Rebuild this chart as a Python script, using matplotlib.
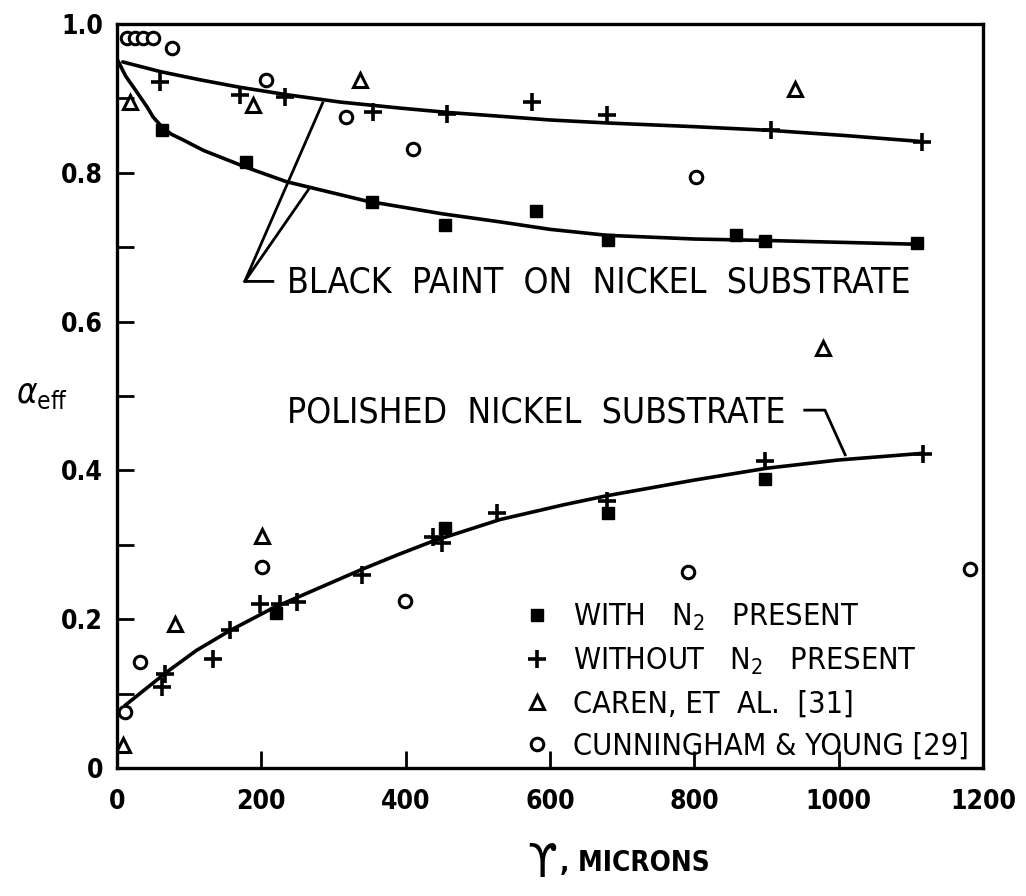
#plot of effective absorptance against coating thickness
#black paint and polished nickel substrates, with and without N2
import numpy as np
import matplotlib.pyplot as plt

# black paint on nickel substrate - measured points
paint_n2_x = [62, 179, 353, 455, 580, 680, 858, 898, 1108]
paint_n2_y = [0.858, 0.815, 0.761, 0.730, 0.748, 0.710, 0.717, 0.709, 0.705]
paint_no_n2_x = [60, 170, 233, 355, 457, 575, 679, 906, 1115]
paint_no_n2_y = [0.922, 0.905, 0.902, 0.882, 0.879, 0.895, 0.878, 0.858, 0.842]
paint_caren_x = [18, 189, 337, 939]
paint_caren_y = [0.895, 0.891, 0.925, 0.913]
paint_cy_x = [14, 25, 36, 50, 76, 206, 318, 410, 802]
paint_cy_y = [0.981, 0.981, 0.981, 0.981, 0.968, 0.925, 0.875, 0.832, 0.795]

# polished nickel substrate - measured points
pol_n2_x = [221, 455, 680, 898]
pol_n2_y = [0.208, 0.322, 0.343, 0.389]
pol_no_n2_x = [62, 66, 133, 157, 198, 226, 249, 339, 438, 450, 526, 679, 898, 1117]
pol_no_n2_y = [0.109, 0.127, 0.147, 0.185, 0.221, 0.221, 0.223, 0.259, 0.310,
               0.302, 0.343, 0.359, 0.413, 0.422]
pol_caren_x = [8, 80, 201, 978]
pol_caren_y = [0.031, 0.194, 0.312, 0.564]
pol_cy_x = [11, 32, 201, 399, 791, 1182]
pol_cy_y = [0.075, 0.142, 0.270, 0.225, 0.264, 0.268]

# faired curves through the data
upper_x = [8, 60, 115, 170, 235, 310, 392, 460, 531, 600, 679, 800, 906, 1010, 1115]
upper_y = [0.949, 0.936, 0.925, 0.915, 0.905, 0.895, 0.887, 0.881, 0.876, 0.871,
           0.867, 0.862, 0.857, 0.850, 0.842]
lower_x = [0, 12, 25, 42, 50, 62, 75, 90, 120, 180, 235, 346, 450, 531, 600, 679,
           800, 901, 1108]
lower_y = [0.953, 0.930, 0.912, 0.888, 0.875, 0.862, 0.852, 0.845, 0.830, 0.807,
           0.788, 0.762, 0.745, 0.734, 0.724, 0.716, 0.711, 0.709, 0.704]
pol_x = [11, 69, 110, 157, 216, 280, 337, 390, 438, 531, 620, 679, 800, 901, 1000, 1117]
pol_y = [0.084, 0.129, 0.158, 0.185, 0.215, 0.242, 0.266, 0.287, 0.305, 0.334, 0.354,
         0.366, 0.387, 0.403, 0.414, 0.423]

x_ticks = [0, 200, 400, 600, 800, 1000, 1200]
x_labels = ['0', '200', '400', '600', '800', '1000', '1200']
y_ticks = [0, 0.2, 0.4, 0.6, 0.8, 1.0]
y_labels = ['0', '0.2', '0.4', '0.6', '0.8', '1.0']

plt.rcParams['font.family'] = ['DejaVu Sans']
plt.rcParams['font.stretch'] = 'condensed'

fig = plt.figure(figsize=(10.26, 8.96), dpi=100)
ax = fig.add_axes([117 / 1026, 1 - 768 / 896, 866 / 1026, 744 / 896])

# curves
ax.plot(upper_x, upper_y, color='k', lw=2.6, solid_capstyle='round')
ax.plot(lower_x, lower_y, color='k', lw=2.6, solid_capstyle='round')
ax.plot(pol_x, pol_y, color='k', lw=2.6, solid_capstyle='round')

sq = dict(ls='none', marker='s', ms=9, color='k')
pl = dict(ls='none', marker='+', ms=13, mew=2.6, color='k')
tri = dict(ls='none', marker='^', ms=10, mfc='white', mec='k', mew=2.2)
circ = dict(ls='none', marker='o', ms=9, mfc='white', mec='k', mew=2.2)

h1, = ax.plot(pol_n2_x, pol_n2_y, **sq)
ax.plot(paint_n2_x, paint_n2_y, **sq)
h2, = ax.plot(pol_no_n2_x, pol_no_n2_y, **pl)
ax.plot(paint_no_n2_x, paint_no_n2_y, **pl)
h3, = ax.plot(pol_caren_x, pol_caren_y, **tri)
ax.plot(paint_caren_x, paint_caren_y, **tri)
h4, = ax.plot(pol_cy_x, pol_cy_y, **circ)
ax.plot(paint_cy_x, paint_cy_y, **circ)

# leaders and curve names
ax.plot([216, 177, 285], [0.654, 0.654, 0.894], color='k', lw=2)
ax.plot([177, 265], [0.654, 0.777], color='k', lw=2)
ax.text(236, 0.653, 'BLACK  PAINT  ON  NICKEL  SUBSTRATE', fontsize=25.5,
        va='center', ha='left')
ax.plot([953, 981, 1009], [0.481, 0.481, 0.421], color='k', lw=2)
ax.text(236, 0.478, 'POLISHED  NICKEL  SUBSTRATE', fontsize=25.5,
        va='center', ha='left')

ax.set_xlim(0, 1200)
ax.set_ylim(0, 1.0)
ax.set_xticks(x_ticks)
ax.set_xticklabels(x_labels)
ax.set_yticks(y_ticks)
ax.set_yticklabels(y_labels)
ax.set_yticks(np.arange(0.1, 1.0, 0.2), minor=True)
ax.tick_params(axis='both', which='both', direction='in', length=12, width=2,
               labelsize=19, top=False, right=False)
ax.tick_params(axis='x', pad=15)
ax.tick_params(axis='y', pad=10)
for lab in ax.get_xticklabels() + ax.get_yticklabels():
    lab.set_fontweight('bold')
for s in ax.spines.values():
    s.set_linewidth(2.4)

ax.set_ylabel(r'$\alpha_{\mathrm{eff}}$', rotation=0, fontsize=25)
ax.yaxis.set_label_coords(-0.087, 0.48)
ax.text(0.491, -0.13, 'ϒ', transform=ax.transAxes, fontsize=34,
        ha='center', va='center')
ax.text(0.512, -0.128, ', MICRONS', transform=ax.transAxes, fontsize=20,
        fontweight='bold', ha='left', va='center')

ax.legend([h1, h2, h3, h4],
          [r'WITH   N$_2$   PRESENT', r'WITHOUT   N$_2$   PRESENT',
           'CAREN, ET  AL.  [31]', 'CUNNINGHAM & YOUNG [29]'],
          loc='lower left', bbox_to_anchor=(0.458, 0.0), frameon=False,
          fontsize=22, handlelength=1.0, handletextpad=0.68,
          labelspacing=0.42, borderaxespad=0.05, borderpad=0.2)

fig.savefig('out.png', dpi=100)
